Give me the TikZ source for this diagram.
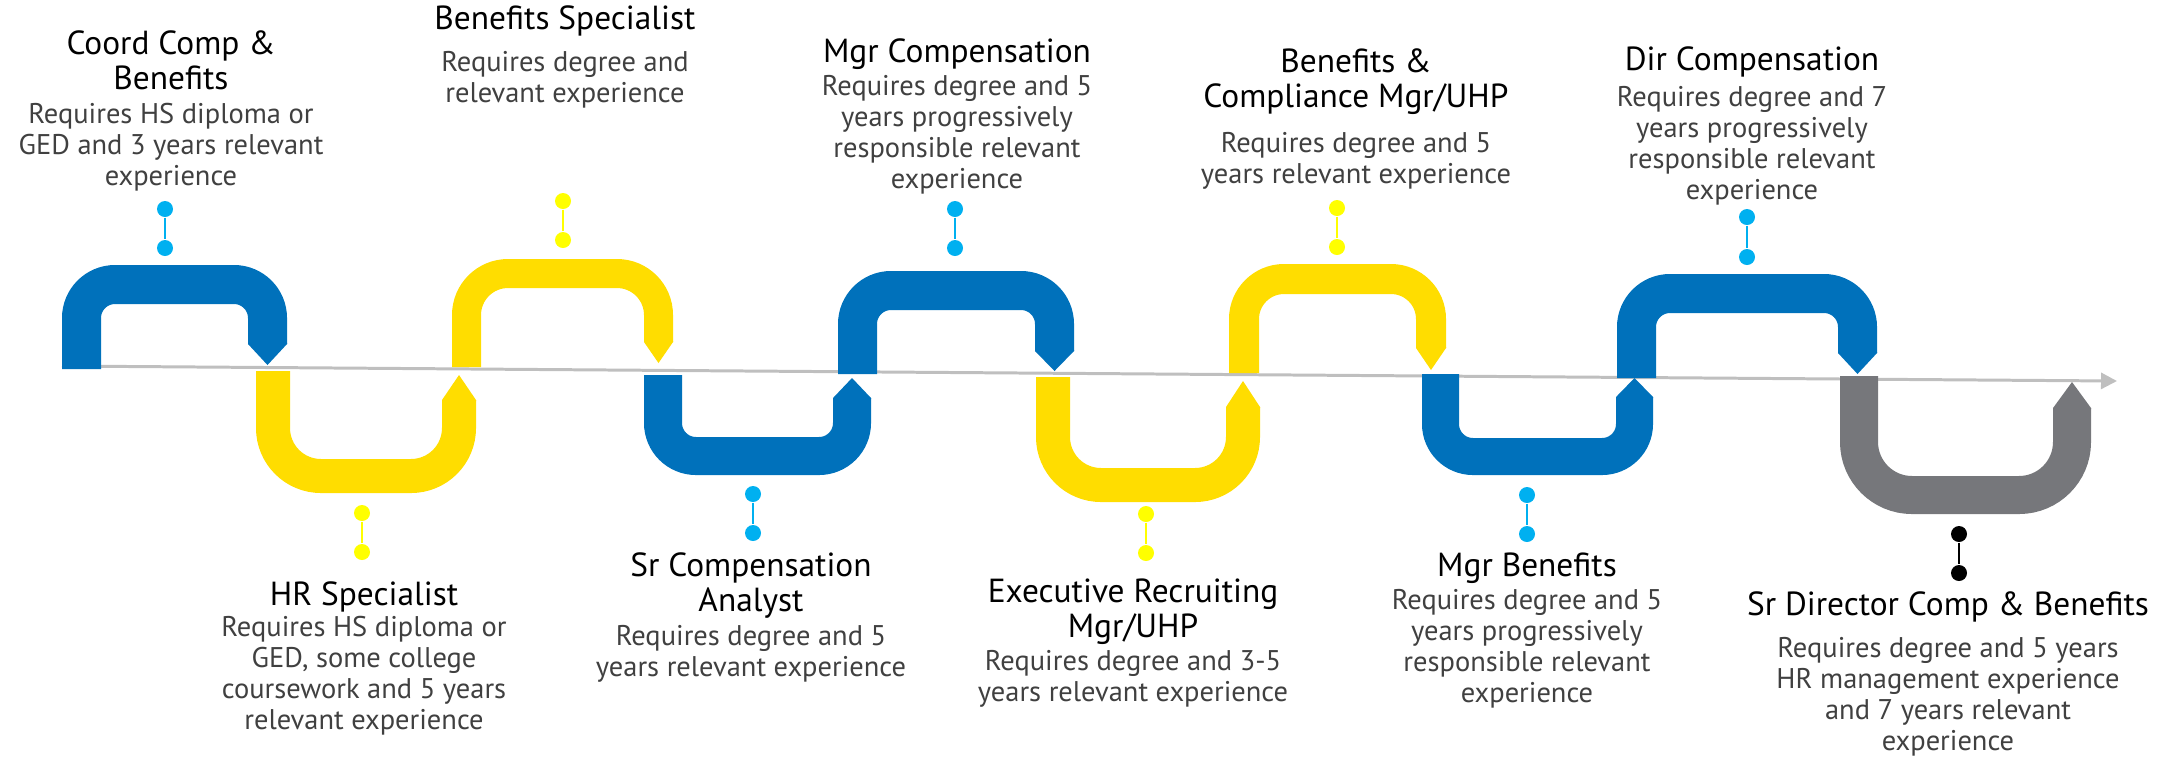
\documentclass[tikz,border=0pt]{standalone}
\usepackage{fontspec}
\setmainfont{PT Sans}
\usetikzlibrary{arrows.meta}

\definecolor{bandblue}{HTML}{0071BB}
\definecolor{bandyellow}{HTML}{FFDD00}
\definecolor{bandgrey}{HTML}{76777B}
\definecolor{pinblue}{HTML}{00B0F0}
\definecolor{pinyellow}{HTML}{FFFF00}
\definecolor{pinblack}{HTML}{000000}
\definecolor{linegrey}{HTML}{BFBFBF}
\definecolor{textgrey}{HTML}{404040}

\tikzset{
  jobtitle/.style={font=\fontsize{9.5}{10.1}\selectfont, align=center, anchor=north, inner sep=0pt},
  jobreq/.style={font=\fontsize{8.1}{8.8}\selectfont, text=textgrey, align=center, anchor=north, inner sep=0pt},
  pindot/.style={circle, inner sep=0pt, minimum size=1.6mm},
  pinline/.style={line width=0.7pt},
}

\begin{document}
\begin{tikzpicture}[x=0.1mm,y=-0.1mm]
\useasboundingbox (0,0) rectangle (2177,760);

% the line
\coordinate (tl0) at (62,366);
\coordinate (tl1) at (2117,381);
\draw[linegrey, line width=0.85pt, -{Triangle[length=1.6mm,width=1.6mm]}] (tl0) -- (tl1);

% arches above the line
\foreach \xa/\xb/\bw/\ya/\yb/\ys/\yp/\ri/\col in {
    62/287/39/265/369/344/365/14/bandblue,
    452/673/29/259/367/342/363/27/bandyellow,
    838/1074/39/271/374/351/371/14/bandblue,
    1229/1446/30/264/373/348/370/25/bandyellow,
    1617/1877/39/274/378/353/374/14/bandblue} {
    \draw[color=\col, line width=\bw*0.1mm, rounded corners=(\ri+\bw/2)*0.1mm]
        (\xa+\bw/2,\yb) -- (\xa+\bw/2,\ya+\bw/2) -- (\xb-\bw/2,\ya+\bw/2) -- (\xb-\bw/2,\ys);
    \fill[color=\col] (\xb-\bw,\ys-1) -- (\xb,\ys-1) -- (\xb,\ys) -- (\xb-\bw/2,\yp) -- (\xb-\bw,\ys) -- cycle;
}

% cups below the line
\foreach \xa/\xb/\bw/\ya/\yb/\ys/\yp/\ri/\col in {
    256/476/34/493/371/400/375/31/bandyellow,
    644/871/38/475/375/398/378/14/bandblue,
    1036/1260/34/502/377/407/381/31/bandyellow,
    1422/1653/37/475/374/397/378/14/bandblue,
    1840/2091/38/514/376/408/382/34/bandgrey} {
    \draw[color=\col, line width=\bw*0.1mm, rounded corners=(\ri+\bw/2)*0.1mm]
        (\xa+\bw/2,\yb) -- (\xa+\bw/2,\ya-\bw/2) -- (\xb-\bw/2,\ya-\bw/2) -- (\xb-\bw/2,\ys);
    \fill[color=\col] (\xb-\bw,\ys+1) -- (\xb,\ys+1) -- (\xb,\ys) -- (\xb-\bw/2,\yp) -- (\xb-\bw,\ys) -- cycle;
}

% pins
\foreach \n/\x/\ya/\yb/\col in {1/165/209/248/pinblue, 2/362/513/552/pinyellow,
    3/563/201/240/pinyellow, 4/753/494/533/pinblue, 5/955/209/248/pinblue,
    6/1146/514/553/pinyellow, 7/1337/208/247/pinyellow, 8/1527/495/534/pinblue,
    9/1747/217/257/pinblue, 10/1959/534/573/pinblack} {
    \node[pindot, fill=\col] (a\n) at (\x,\ya) {};
    \node[pindot, fill=\col] (b\n) at (\x,\yb) {};
    \draw[pinline, \col] (a\n) -- (b\n);
}

% job texts
\node[jobtitle] (t1) at (171,30) {Coord Comp \&\\Benefits};
\node[jobreq] (r1) at (171,103) {Requires HS diploma or\\GED and 3 years relevant\\experience};
\node[jobtitle] (t2) at (364,581) {HR Specialist};
\node[jobreq] (r2) at (364,616) {Requires HS diploma or\\GED, some college\\coursework and 5 years\\relevant experience};
\node[jobtitle] (t3) at (565,5) {Benefits Specialist};
\node[jobreq] (r3) at (565,51) {Requires degree and\\relevant experience};
\node[jobtitle] (t4) at (751,552) {Sr Compensation\\Analyst};
\node[jobreq] (r4) at (751,625) {Requires degree and 5\\years relevant experience};
\node[jobtitle] (t5) at (957,38) {Mgr Compensation};
\node[jobreq] (r5) at (957,75) {Requires degree and 5\\years progressively\\responsible relevant\\experience};
\node[jobtitle] (t6) at (1133,578) {Executive Recruiting\\Mgr/UHP};
\node[jobreq] (r6) at (1133,650) {Requires degree and 3-5\\years relevant experience};
\node[jobtitle] (t7) at (1356,48) {Benefits \&\\Compliance Mgr/UHP};
\node[jobreq] (r7) at (1356,132) {Requires degree and 5\\years relevant experience};
\node[jobtitle] (t8) at (1527,552) {Mgr Benefits};
\node[jobreq] (r8) at (1527,589) {Requires degree and 5\\years progressively\\responsible relevant\\experience};
\node[jobtitle] (t9) at (1752,46) {Dir Compensation};
\node[jobreq] (r9) at (1752,86) {Requires degree and 7\\years progressively\\responsible relevant\\experience};
\node[jobtitle] (t10) at (1948,591) {Sr Director Comp \& Benefits};
\node[jobreq] (r10) at (1948,637) {Requires degree and 5 years\\HR management experience\\and 7 years relevant\\experience};
\end{tikzpicture}
\end{document}
